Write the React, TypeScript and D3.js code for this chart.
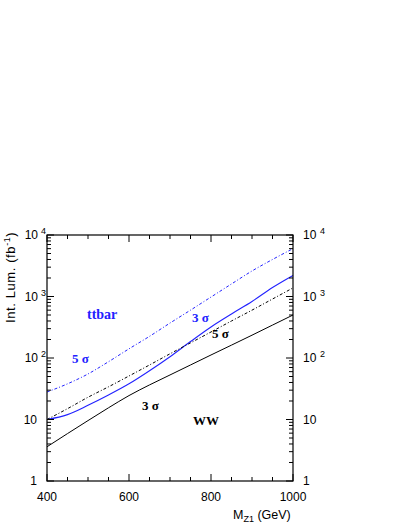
import React from "react";
import * as d3 from "d3";

const masses = [400, 450, 500, 550, 600, 650, 700, 750, 800, 850, 900, 950, 1000];
const ttbar5 = [28, 38, 55, 87, 141, 225, 370, 600, 980, 1600, 2600, 4000, 6000];
const ttbar3 = [10, 12, 17, 25, 38, 62, 105, 185, 320, 520, 830, 1400, 2200];
const ww5 = [10, 15, 23, 34, 51, 77, 117, 176, 265, 400, 600, 910, 1380];
const ww3 = [3.6, 5.9, 9.6, 15.5, 24.5, 36.5, 53, 77, 112, 162, 235, 343, 500];
const xTickLabels = [400, 600, 800, 1000];
const yDecades = [1, 10, 100, 1000, 10000];

const BLUE = "#2222ff";

export default function App() {
  const W = 409, H = 529;
  const x0 = 47, x1 = 293, y0 = 235, y1 = 481;
  const x = d3.scaleLinear().domain([400, 1000]).range([x0, x1]);
  const y = d3.scaleLog().domain([1, 10000]).range([y1, y0]);

  const line = (vals: number[]) =>
    d3.line<number>()
      .x((_, i) => x(masses[i]))
      .y((v) => y(v))
      .curve(d3.curveMonotoneX)(vals) || "";

  const xMinor = d3.range(400, 1001, 50);
  const yMinor: number[] = [];
  for (let d = 1; d < 10000; d *= 10) for (let k = 1; k <= 9; k++) yMinor.push(d * k);
  yMinor.push(10000);

  const sans = "Liberation Sans, Arial, sans-serif";
  const serif = "Liberation Serif, Times New Roman, serif";

  const exp = (v: number) => Math.round(Math.log10(v));

  return (
    <svg width={W} height={H} style={{ position: "absolute", left: 0, top: 0, background: "#fff" }}>
      <rect x={0} y={0} width={W} height={H} fill="#fff" />
      {/* curves */}
      <path d={line(ttbar5)} fill="none" stroke={BLUE} strokeWidth={1} strokeDasharray="3 2 1 2" />
      <path d={line(ttbar3)} fill="none" stroke={BLUE} strokeWidth={1.1} />
      <path d={line(ww5)} fill="none" stroke="#000" strokeWidth={1} strokeDasharray="3 2 1 2" />
      <path d={line(ww3)} fill="none" stroke="#000" strokeWidth={1} />

      {/* frame */}
      <rect x={x0} y={y0} width={x1 - x0} height={y1 - y0} fill="none" stroke="#000" strokeWidth={1.2} />

      {/* x ticks */}
      {xMinor.map((m) => {
        const major = (m - 400) % 200 === 0;
        const len = major ? 7 : 4;
        return (
          <g key={"xt" + m}>
            <line x1={x(m)} x2={x(m)} y1={y1} y2={y1 - len} stroke="#000" />
            <line x1={x(m)} x2={x(m)} y1={y0} y2={y0 + len} stroke="#000" />
          </g>
        );
      })}
      {/* y ticks */}
      {yMinor.map((v, i) => {
        const major = yDecades.includes(v);
        const len = major ? 7 : 4;
        return (
          <g key={"yt" + i}>
            <line x1={x0} x2={x0 + len} y1={y(v)} y2={y(v)} stroke="#000" />
            <line x1={x1} x2={x1 - len} y1={y(v)} y2={y(v)} stroke="#000" />
          </g>
        );
      })}

      {/* x tick labels */}
      {xTickLabels.map((m) => (
        <text key={"xl" + m} x={x(m)} y={501} textAnchor="middle" fontFamily={sans} fontSize={12}>
          {m}
        </text>
      ))}

      {/* y tick labels */}
      {yDecades.map((v) => {
        const e = exp(v);
        const yy = y(v) + 4;
        if (e <= 1) {
          return (
            <g key={"yl" + v}>
              <text x={37} y={yy} textAnchor="end" fontFamily={sans} fontSize={12}>{v}</text>
              <text x={303} y={yy} fontFamily={sans} fontSize={12}>{v}</text>
            </g>
          );
        }
        return (
          <g key={"yl" + v}>
            <text x={38} y={yy} textAnchor="end" fontFamily={sans} fontSize={12}>10</text>
            <text x={41} y={yy - 5} fontFamily={sans} fontSize={9}>{e}</text>
            <text x={303} y={yy} fontFamily={sans} fontSize={12}>10</text>
            <text x={320} y={yy - 5} fontFamily={sans} fontSize={9}>{e}</text>
          </g>
        );
      })}

      {/* axis titles */}
      <text x={233} y={519} fontFamily={sans} fontSize={12.5}>
        M<tspan fontSize={9} dy={3}>Z1</tspan><tspan dy={-3}> (GeV)</tspan>
      </text>
      <text transform="translate(15,323) rotate(-90)" fontFamily={sans} fontSize={13} letterSpacing={0.6}>
        Int. Lum. (fb<tspan fontSize={9} dy={-5}>-1</tspan><tspan dy={5}>)</tspan>
      </text>

      {/* annotations */}
      <text x={87} y={319} fontFamily={serif} fontWeight="bold" fontSize={14} fill={BLUE}>ttbar</text>
      <text x={72} y={363} fontFamily={serif} fontWeight="bold" fontSize={13} fill={BLUE}>5 σ</text>
      <text x={192} y={322} fontFamily={serif} fontWeight="bold" fontSize={13} fill={BLUE}>3 σ</text>
      <text x={212} y={338} fontFamily={serif} fontWeight="bold" fontSize={13} fill="#000">5 σ</text>
      <text x={142} y={410} fontFamily={serif} fontWeight="bold" fontSize={13} fill="#000">3 σ</text>
      <text x={193} y={425} fontFamily={serif} fontWeight="bold" fontSize={13} fill="#000">WW</text>
    </svg>
  );
}
